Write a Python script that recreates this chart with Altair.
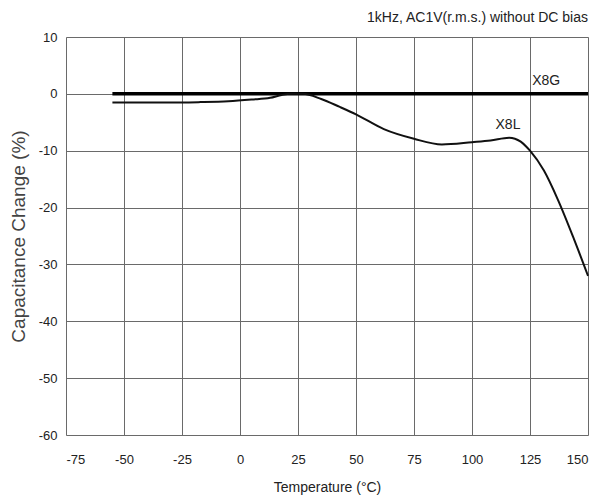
import altair as alt
import pandas as pd

# X8G series (flat)
x8g_temp = [-55, 150]
x8g_cap = [0, 0]

# X8L series
x8l_temp = [-55, -40, -25, -17, -5, 5, 13, 18, 22, 27, 35, 43, 50, 62, 75, 87, 100, 108, 116, 121, 125, 131, 137, 144, 150]
x8l_cap = [-1.5, -1.5, -1.5, -1.45, -1.3, -1.0, -0.7, -0.2, 0.0, 0.0, -0.9, -2.3, -3.6, -6.2, -7.9, -8.9, -8.5, -8.2, -7.7, -8.4, -10.0, -13.5, -18.6, -25.6, -32.0]

labels_text = ["X8G", "X8L"]
labels_x = [132, 115.5]
labels_y = [2.2, -5.4]

note = "1kHz, AC1V(r.m.s.) without DC bias"

FONT = "Liberation Sans, Arial"

df_g = pd.DataFrame({"t": x8g_temp, "c": x8g_cap})
df_l = pd.DataFrame({"t": x8l_temp, "c": x8l_cap})
df_lab = pd.DataFrame({"t": labels_x, "c": labels_y, "txt": labels_text})

xs = alt.Scale(domain=[-75, 150], nice=False, zero=False)
ys = alt.Scale(domain=[-60, 10], nice=False, zero=False)

xax = alt.Axis(values=list(range(-75, 151, 25)), title="Temperature (°C)", tickSize=0,
               labelExpr="toString(datum.value)",
               labelPadding=18, titlePadding=14, grid=True, gridColor="#6a6a6a", gridWidth=1,
               domain=False, labelFont=FONT, titleFont=FONT, labelFontSize=13, titleFontSize=14,
               titleFontWeight="normal", labelColor="#222", titleColor="#222")
yax = alt.Axis(values=list(range(-60, 11, 10)), title="Capacitance Change (%)", tickSize=0,
               labelExpr="toString(datum.value)",
               labelPadding=9, titlePadding=10, grid=True, gridColor="#6a6a6a", gridWidth=1,
               domain=False, labelFont=FONT, titleFont=FONT, labelFontSize=13, titleFontSize=19,
               titleFontWeight="normal", labelColor="#222", titleColor="#444")

base_g = alt.Chart(df_g).mark_line(color="black", strokeWidth=3.5).encode(
    x=alt.X("t:Q", scale=xs, axis=xax),
    y=alt.Y("c:Q", scale=ys, axis=yax),
)
line_l = alt.Chart(df_l).mark_line(color="#111", strokeWidth=2, interpolate="monotone").encode(
    x=alt.X("t:Q", scale=xs),
    y=alt.Y("c:Q", scale=ys),
)
lab = alt.Chart(df_lab).mark_text(font=FONT, fontSize=14, color="#222", align="center", baseline="middle").encode(
    x=alt.X("t:Q", scale=xs),
    y=alt.Y("c:Q", scale=ys),
    text="txt:N",
)
nt = alt.Chart(pd.DataFrame({"txt": [note]})).mark_text(
    font=FONT, fontSize=14, color="#222", align="right", baseline="middle", dy=-19
).encode(x=alt.value(522), y=alt.value(0), text="txt:N")

chart = alt.layer(base_g, line_l, lab, nt).properties(
    width=522, height=398,
    autosize=alt.AutoSizeParams(type="none"),
    padding={"left": 58, "top": 29, "right": 6, "bottom": 60},
).configure_view(stroke="#444", strokeWidth=1.5).configure(background="white")

chart.save("out.html", embed_options={"renderer": "svg", "actions": False})
